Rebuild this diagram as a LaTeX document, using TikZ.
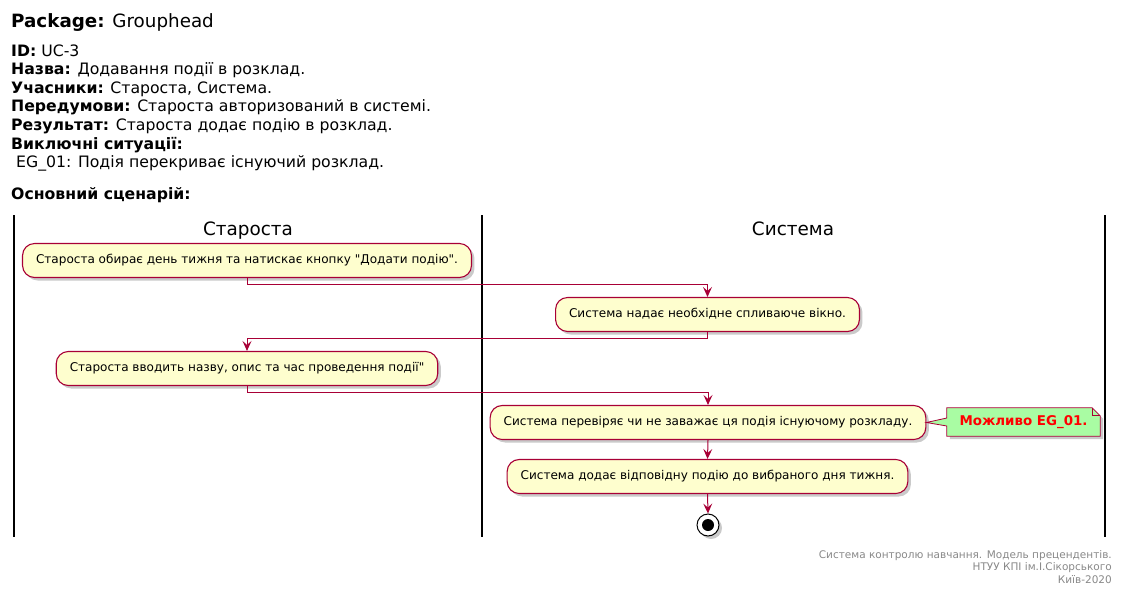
\documentclass[tikz,border=0pt]{standalone}
\usepackage{fontspec}
\setmainfont{DejaVu Sans}[Ligatures=TeXOff]
\usetikzlibrary{arrows.meta,shadows,calc}
\definecolor{pborder}{HTML}{A80036}
\definecolor{pfill}{HTML}{FEFECE}
\definecolor{nfill}{HTML}{A9FCA3}
\definecolor{foot}{HTML}{888888}
\tikzset{
  act/.style={draw=pborder, fill=pfill, line width=1.1pt, rounded corners=12pt,
    minimum height=34pt, inner xsep=13.5pt, inner ysep=0pt,
    font=\fontsize{12.05}{14}\selectfont, text height=9pt, text depth=3pt,
    drop shadow={shadow xshift=3pt, shadow yshift=-3pt, opacity=0.35, fill=black!60}},
  flow/.style={draw=pborder, line width=1pt, -{Stealth[length=10pt,width=9pt,inset=4pt]}},
  lane/.style={draw=black, line width=1.6pt},
  lanetitle/.style={font=\fontsize{18.4}{21}\selectfont, anchor=base, inner sep=0pt},
  hdr/.style={font=\fontsize{15.7}{18}\selectfont, anchor=base west, inner sep=0pt},
}
\begin{document}
\begin{tikzpicture}[x=1pt,y=-1pt]
\useasboundingbox (0,0) rectangle (1124,597);
% header
\node[hdr, font=\fontsize{18.3}{21}\selectfont] (title) at (11,27.3) {\textbf{Package:} Grouphead};
\node[hdr] (h1) at (11,56) {\textbf{ID:} UC-3};
\node[hdr] (h2) at (11,74.5) {\textbf{Назва:} Додавання події в розклад.};
\node[hdr] (h3) at (11,93.2) {\textbf{Учасники:} Староста, Система.};
\node[hdr] (h4) at (11,111.8) {\textbf{Передумови:} Староста авторизований в системі.};
\node[hdr] (h5) at (11,130.5) {\textbf{Результат:} Староста додає подію в розклад.};
\node[hdr] (h6) at (11,149.2) {\textbf{Виключні ситуації:}};
\node[hdr] (h7) at (11,167.8) {\ EG\_01: Подія перекриває існуючий розклад.};
\node[hdr] (h8) at (11,199.5) {\textbf{Основний сценарій:}};
% lanes
\coordinate (l1t) at (14,215); \coordinate (l1b) at (14,537);
\coordinate (l2t) at (482,215); \coordinate (l2b) at (482,537);
\coordinate (l3t) at (1105,215); \coordinate (l3b) at (1105,537);
\draw[lane] (l1t) -- (l1b);
\draw[lane] (l2t) -- (l2b);
\draw[lane] (l3t) -- (l3b);
\node[lanetitle] (t1) at (248,235) {Староста};
\node[lanetitle] (t2) at (793,235) {Система};
% activities
\node[act] (a1) at (247,260.5) {Староста обирає день тижня та натискає кнопку "Додати подію".};
\node[act] (a2) at (707.5,314.5) {Система надає необхідне спливаюче вікно.};
\node[act] (a3) at (247,368.5) {Староста вводить назву, опис та час проведення події"};
\node[act] (a4) at (708,422.5) {Система перевіряє чи не заважає ця подія існуючому розкладу.};
\node[act] (a5) at (707.5,476.5) {Система додає відповідну подію до вибраного дня тижня.};
% stop
\node[circle, draw=black, fill=white, line width=1pt, minimum size=22pt, inner sep=0pt,
  drop shadow={shadow xshift=3pt, shadow yshift=-3pt, opacity=0.35, fill=black!60}] (stop) at (708,525) {};
\node[circle, fill=black, minimum size=12pt, inner sep=0pt] (stopin) at (stop.center) {};
% flows
\draw[flow] (a1.south) -- ++(0,6) -| (a2.north);
\draw[flow] (a2.south) -- ++(0,6) -| (a3.north);
\draw[flow] (a3.south) -- ++(0,6) -| (a4.north);
\draw[flow] (a4.south) -- (a5.north);
\draw[flow] (a5.south) -- (stop.north);
% note
\node[minimum width=153pt, minimum height=28pt, inner sep=0pt] (note) at (1023.5,422) {};
\fill[black!60, opacity=0.35] ($(note.north west)+(3,3)$) -- ($(note.north east)+(-5,3)$) -- ($(note.north east)+(3,11)$) -- ($(note.south east)+(3,3)$) -- ($(note.south west)+(3,3)$) -- cycle;
\draw[draw=pborder, fill=nfill, line width=0.8pt]
  (note.north west) -- ($(note.north east)+(-8,0)$) -- ($(note.north east)+(0,8)$) -- (note.south east)
  -- (note.south west) -- ($(note.west)+(0,4)$) -- (a4.east) -- ($(note.west)+(0,-4)$) -- cycle;
\draw[draw=pborder, line width=0.8pt] ($(note.north east)+(-8,0)$) -- ($(note.north east)+(-8,8)$) -- ($(note.north east)+(0,8)$);
\node[font=\fontsize{13.4}{15}\selectfont\bfseries, text=red, inner sep=0pt] (notetext) at (note.center) {Можливо EG\_01.};
% footer
\node[anchor=north east, align=right, inner sep=0pt, text=foot,
  font=\fontsize{10.5}{12.5}\selectfont] (footer) at (1112,550)
  {Система контролю навчання. Модель прецендентів.\\НТУУ КПІ ім.І.Сікорського\\Київ-2020};
\end{tikzpicture}
\end{document}
